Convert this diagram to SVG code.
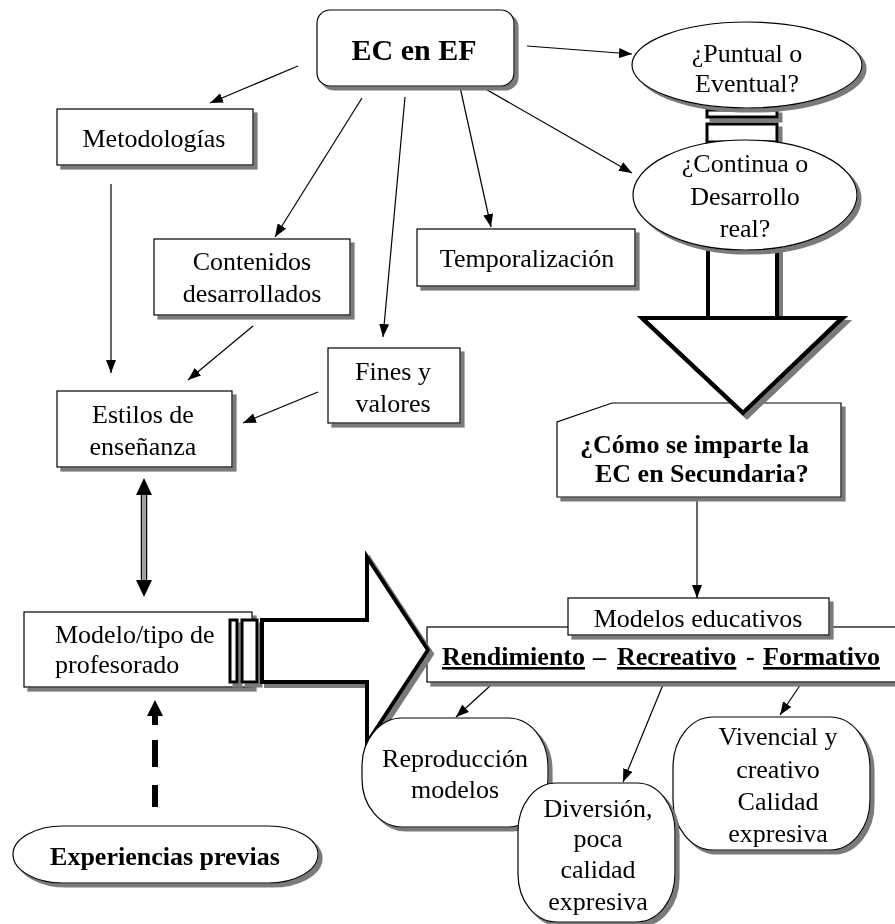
<svg xmlns="http://www.w3.org/2000/svg" width="895" height="924" viewBox="0 0 895 924">
  <style>
    text { font-family: "Liberation Serif", "Times New Roman", serif; font-size: 26px; fill: #000; }
    .c { text-anchor: middle; }
    .b { font-weight: bold; }
    .u { text-decoration: underline; }
    .box { fill: #fff; stroke: #000; stroke-width: 1.2; }
    .fat { fill: #fff; stroke: #000; stroke-width: 4; stroke-linejoin: miter; }
    .stripe { fill: #fff; stroke: #000; stroke-width: 3; }
    .link { fill: none; stroke: #000; stroke-width: 1.2; marker-end: url(#tip); }
    .sh { filter: url(#shadow); }
  </style>
  <defs>
    <filter id="shadow" x="-10%" y="-10%" width="130%" height="130%">
      <feDropShadow dx="4" dy="4" stdDeviation="0.6" flood-color="#7a7a7a" flood-opacity="1"/>
    </filter>
    <marker id="tip" markerUnits="userSpaceOnUse" markerWidth="13" markerHeight="10" refX="13" refY="5" orient="auto">
      <path d="M0,0 L13,5 L0,10 z" fill="#000"/>
    </marker>
  </defs>

  <!-- striped down arrow between the two questions -->
  <g id="arrow-down" class="sh">
    <rect class="stripe" x="707" y="110" width="70" height="7"/>
    <rect class="stripe" x="707" y="124" width="70" height="18"/>
    <path class="fat" d="M708,146 L777,146 L777,318 L843,318 L743,413 L642,318 L708,318 Z"/>
  </g>

  <!-- connectors -->
  <g id="connectors">
    <line class="link" x1="298" y1="66" x2="210" y2="103"/>
    <line class="link" x1="362" y1="98" x2="275" y2="237"/>
    <line class="link" x1="405" y1="97" x2="383" y2="337"/>
    <line class="link" x1="460" y1="87" x2="491" y2="227"/>
    <line class="link" x1="482" y1="87" x2="632" y2="173"/>
    <line class="link" x1="527" y1="46" x2="632" y2="54"/>
    <line class="link" x1="111" y1="184" x2="111" y2="373"/>
    <line class="link" x1="253" y1="326" x2="188" y2="380"/>
    <line class="link" x1="318" y1="392" x2="243" y2="423"/>
    <line class="link" x1="697" y1="497" x2="697" y2="598"/>
    <line class="link" x1="502" y1="675" x2="456" y2="717"/>
    <line class="link" x1="667" y1="675" x2="623" y2="782"/>
    <line class="link" x1="807" y1="675" x2="780" y2="715"/>
    <!-- two-way link between teaching styles and teacher model -->
    <g id="two-way">
      <line x1="141.5" y1="493" x2="141.5" y2="582" stroke="#000" stroke-width="1.5"/>
      <line x1="146.5" y1="493" x2="146.5" y2="582" stroke="#000" stroke-width="1.5"/>
      <line x1="144" y1="493" x2="144" y2="582" stroke="#999" stroke-width="3"/>
      <path d="M144,478 L152,495 L136,495 Z" fill="#000"/>
      <path d="M144,597 L152,580 L136,580 Z" fill="#000"/>
    </g>
    <!-- dashed link from previous experiences -->
    <g id="dashed-up" fill="#000">
      <path d="M155,700 L163,716 L147,716 Z"/>
      <rect x="152" y="715" width="6" height="10"/>
      <rect x="152" y="740" width="6" height="27"/>
      <rect x="152" y="785" width="6" height="22"/>
    </g>
  </g>

  <g id="ec-en-ef" class="sh">
    <rect class="box" x="317" y="10" width="197" height="76" rx="13"/>
    <text class="c b" x="414" y="60" style="font-size:30px">EC en EF</text>
  </g>

  <g id="puntual" class="sh">
    <ellipse class="box" cx="747" cy="65" rx="115" ry="43"/>
    <text class="c" x="747" y="62">¿Puntual o</text>
    <text class="c" x="747" y="92">Eventual?</text>
  </g>

  <g id="continua" class="sh">
    <ellipse class="box" cx="745" cy="195" rx="112" ry="55"/>
    <text class="c" x="745" y="172">¿Continua o</text>
    <text class="c" x="745" y="205">Desarrollo</text>
    <text class="c" x="745" y="237">real?</text>
  </g>

  <g id="metodologias" class="sh">
    <rect class="box" x="57" y="109" width="196" height="56"/>
    <text class="c" x="154" y="147">Metodologías</text>
  </g>

  <g id="contenidos" class="sh">
    <rect class="box" x="154" y="239" width="196" height="76"/>
    <text class="c" x="252" y="270">Contenidos</text>
    <text class="c" x="252" y="302">desarrollados</text>
  </g>

  <g id="temporalizacion" class="sh">
    <rect class="box" x="417" y="229" width="218" height="57"/>
    <text class="c" x="527" y="267">Temporalización</text>
  </g>

  <g id="fines" class="sh">
    <rect class="box" x="328" y="348" width="132" height="75"/>
    <text class="c" x="393" y="380">Fines y</text>
    <text class="c" x="393" y="412">valores</text>
  </g>

  <g id="estilos" class="sh">
    <rect class="box" x="57" y="391" width="175" height="76"/>
    <text class="c" x="143" y="423">Estilos de</text>
    <text class="c" x="143" y="455">enseñanza</text>
  </g>

  <g id="como-se-imparte" class="sh">
    <path class="box" d="M612,403 L841,403 L841,497 L557,497 L557,422 Z"/>
    <text class="b" x="580" y="453">¿Cómo se imparte la</text>
    <text class="b" x="595" y="482">EC en Secundaria?</text>
  </g>

  <!-- the striped arrowhead sits over the question box -->
  <g id="arrow-down-head" class="sh">
    <path class="fat" d="M642,318 L843,318 L743,413 Z" stroke="none"/>
    <path d="M842,318 L743,413 L642,318" fill="none" stroke="#000" stroke-width="4"/>
  </g>

  <g id="modelos-tipos" class="sh">
    <rect class="box" x="427" y="627" width="480" height="55"/>
    <text class="b u" x="442" y="665">Rendimiento</text>
    <text class="b" x="593" y="665">–</text>
    <text class="b u" x="617" y="665">Recreativo</text>
    <text class="b" x="746" y="665">-</text>
    <text class="b u" x="763" y="665">Formativo</text>
  </g>

  <g id="modelos-educativos" class="sh">
    <rect class="box" x="568" y="598" width="261" height="37"/>
    <text class="c" x="698" y="627">Modelos educativos</text>
  </g>

  <g id="modelo-profesorado" class="sh">
    <rect class="box" x="24" y="612" width="228" height="75"/>
    <text x="55" y="643">Modelo/tipo de</text>
    <text x="55" y="673">profesorado</text>
  </g>

  <!-- striped right arrow from teacher model to educational models -->
  <g id="arrow-right" class="sh">
    <rect class="stripe" x="230" y="620" width="7" height="62"/>
    <rect class="stripe" x="242" y="620" width="15" height="62"/>
    <path class="fat" d="M262,620 L367,620 L367,557 L428,650 L367,743 L367,682 L262,682 Z"/>
  </g>

  <g id="reproduccion" class="sh">
    <rect class="box" x="362" y="718" width="186" height="109" rx="40" ry="48"/>
    <text class="c" x="455" y="767">Reproducción</text>
    <text class="c" x="455" y="798">modelos</text>
  </g>

  <g id="vivencial" class="sh">
    <rect class="box" x="673" y="717" width="197" height="133" rx="40" ry="50"/>
    <text class="c" x="778" y="745">Vivencial y</text>
    <text class="c" x="778" y="778">creativo</text>
    <text class="c" x="778" y="810">Calidad</text>
    <text class="c" x="778" y="842">expresiva</text>
  </g>

  <g id="diversion" class="sh">
    <rect class="box" x="518" y="783" width="157" height="139" rx="38" ry="48"/>
    <text class="c" x="598" y="817">Diversión,</text>
    <text class="c" x="598" y="847">poca</text>
    <text class="c" x="598" y="878">calidad</text>
    <text class="c" x="598" y="910">expresiva</text>
  </g>

  <g id="experiencias" class="sh">
    <rect class="box" x="13" y="826" width="305" height="57" rx="50" ry="28.5"/>
    <text class="c b" x="165" y="865">Experiencias previas</text>
  </g>
</svg>
